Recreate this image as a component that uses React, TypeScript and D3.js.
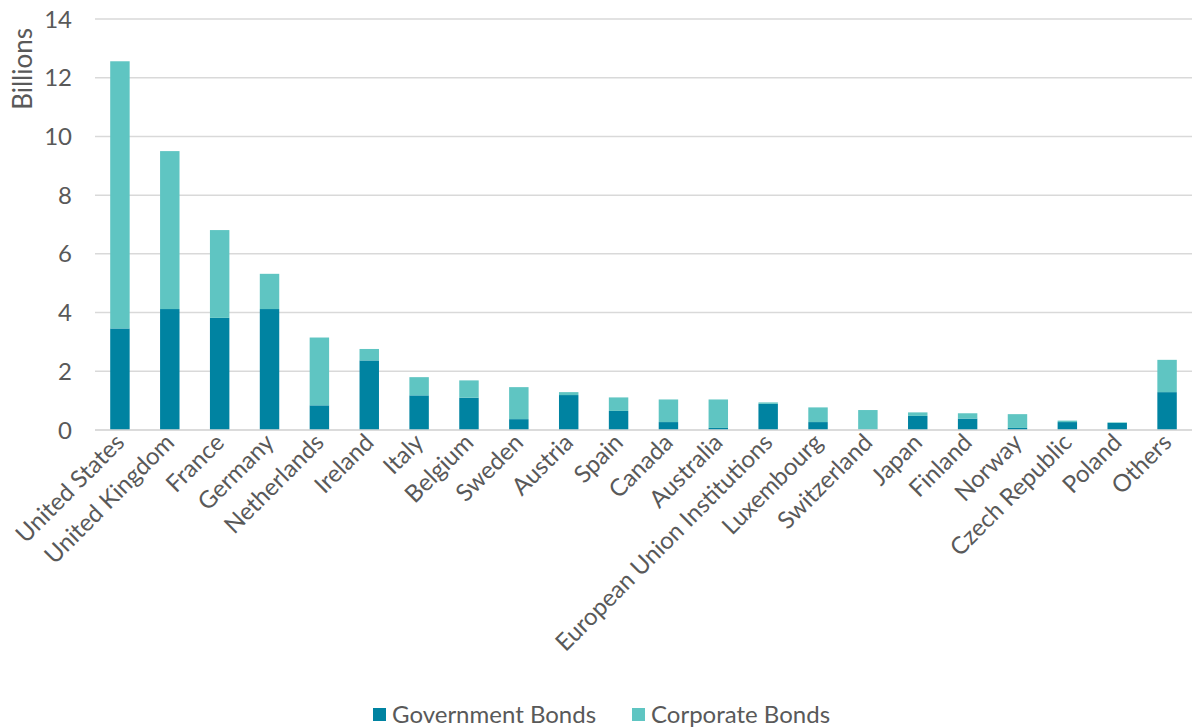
import React from "react";
import * as d3 from "d3";

const categories = [
  "United States", "United Kingdom", "France", "Germany", "Netherlands", "Ireland",
  "Italy", "Belgium", "Sweden", "Austria", "Spain", "Canada", "Australia",
  "European Union Institutions", "Luxembourg", "Switzerland", "Japan", "Finland",
  "Norway", "Czech Republic", "Poland", "Others",
];
const governmentBonds = [3.46, 4.12, 3.82, 4.12, 0.84, 2.37, 1.18, 1.1, 0.37, 1.19, 0.65, 0.27, 0.07, 0.89, 0.27, 0.01, 0.48, 0.39, 0.07, 0.27, 0.24, 1.29];
const totalBonds = [12.56, 9.5, 6.81, 5.32, 3.15, 2.76, 1.8, 1.69, 1.46, 1.29, 1.11, 1.04, 1.04, 0.94, 0.77, 0.68, 0.6, 0.57, 0.54, 0.32, 0.26, 2.39];
const corporateBonds = totalBonds.map((t, i) => Math.max(0, +(t - governmentBonds[i]).toFixed(2)));
const yTicks = [0, 2, 4, 6, 8, 10, 12, 14];
const seriesNames = ["Government Bonds", "Corporate Bonds"];
const colors = ["#0083A1", "#5FC5C2"];

export default function App() {
  const W = 1192, H = 728;
  const left = 95, right = 1192, top = 19, bottom = 430;
  const x = d3.scaleBand<string>().domain(categories).range([left, right]).paddingInner(0.61).paddingOuter(0.305);
  const y = d3.scaleLinear().domain([0, 14]).range([bottom, top]);
  const font = "Lato, 'Open Sans', sans-serif";
  const textColor = "#595959";

  const rows = categories.map((c, i) => ({ c, gov: governmentBonds[i], corp: corporateBonds[i] }));
  const stack = d3.stack<any>().keys(["gov", "corp"])(rows);

  return (
    <svg width={W} height={H} style={{ position: "absolute", left: 0, top: 0 }} fontFamily={font}>
      <rect width={W} height={H} fill="#fff" />
      {yTicks.map((t) => (
        <g key={t}>
          <line x1={left} x2={right} y1={y(t)} y2={y(t)} stroke="#D9D9D9" strokeWidth={1.5} />
          <text x={72} y={y(t)} dy="0.36em" textAnchor="end" fontSize={24} fill={textColor}>{t}</text>
        </g>
      ))}
      <text transform={`translate(32,28) rotate(-90)`} textAnchor="end" fontSize={26} fill={textColor}>Billions</text>
      {stack.map((s, si) => (
        <g key={si} fill={colors[si]}>
          {s.map((d: any, i: number) => (
            <rect key={i} x={x(categories[i])} width={x.bandwidth()} y={y(d[1])} height={Math.max(0, y(d[0]) - y(d[1]))} />
          ))}
        </g>
      ))}
      <line x1={left} x2={right} y1={y(0)} y2={y(0)} stroke="#D9D9D9" strokeWidth={1.5} />
      {categories.map((c) => (
        <text key={c} transform={`translate(${(x(c) as number) + x.bandwidth() / 2 + 6},${bottom + 14}) rotate(-45)`}
          textAnchor="end" fontSize={24} fill={textColor}>{c}</text>
      ))}
      <g>
        <rect x={373} y={708} width={13} height={13} fill={colors[0]} />
        <text x={392} y={722.5} fontSize={24} fill={textColor}>{seriesNames[0]}</text>
        <rect x={632} y={708} width={13} height={13} fill={colors[1]} />
        <text x={651} y={722.5} fontSize={24} fill={textColor}>{seriesNames[1]}</text>
      </g>
    </svg>
  );
}
